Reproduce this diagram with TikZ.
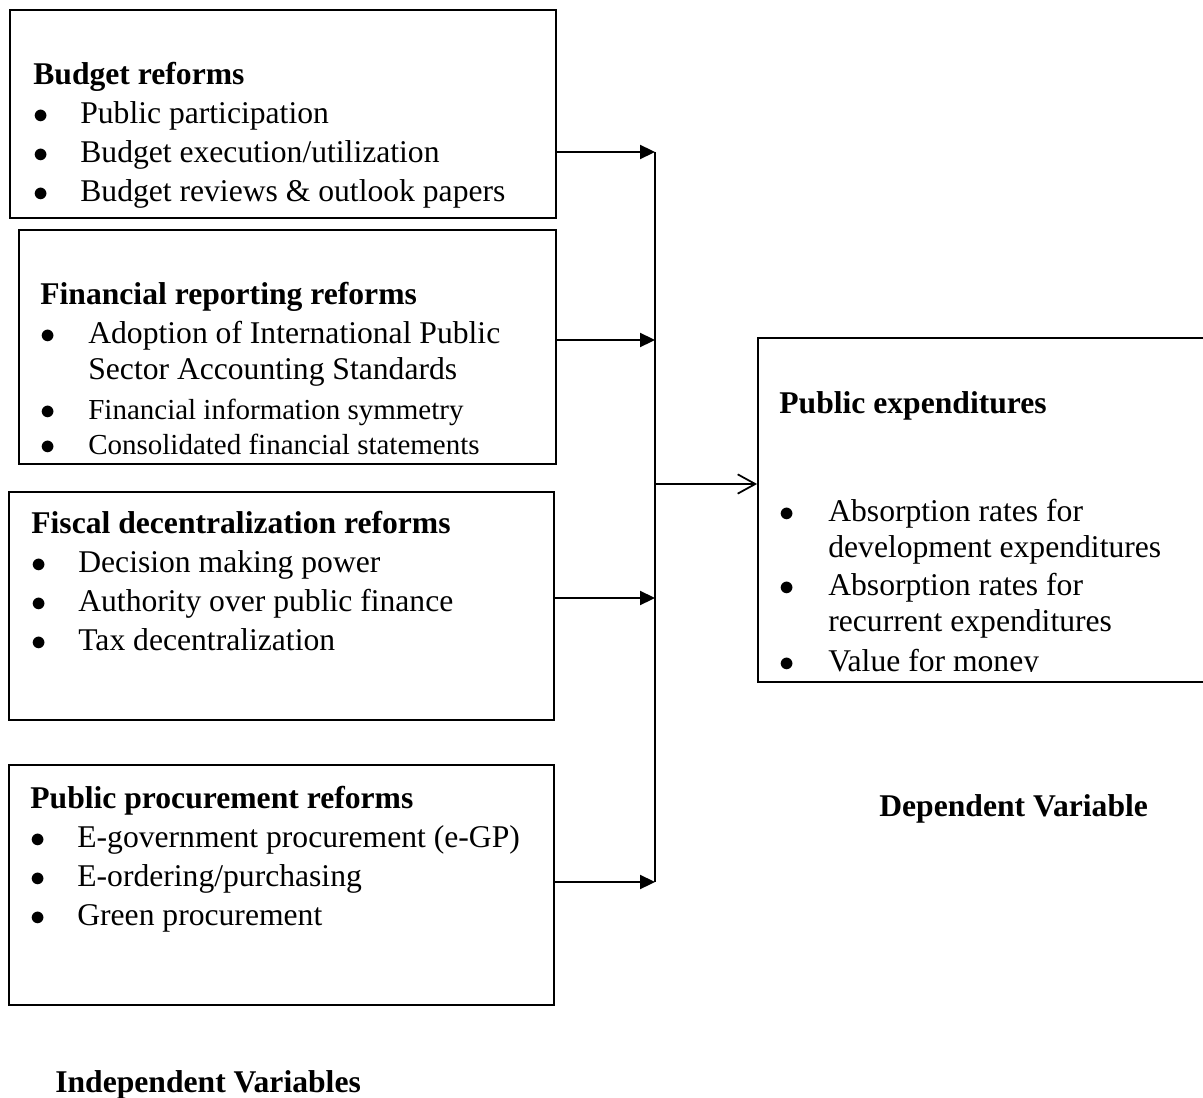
\documentclass[tikz,border=0pt]{standalone}
\usepackage{fontspec}
\setmainfont{Liberation Serif}
\usepackage{tikz}
\usetikzlibrary{arrows.meta,positioning}
\newcommand\bul[2][0.94cm]{\makebox[#1][l]{$\bullet$}#2}
\newcommand\smalltxt{\fontsize{16.5}{19.8}\selectfont}

\begin{document}
\begin{tikzpicture}[
  x=0.02cm, y=-0.02cm,
  font=\fontsize{18}{22.2}\selectfont,
  panel/.style={draw, line width=1.1pt, rectangle, inner sep=0pt},
  txt/.style={anchor=north west, align=left, inner sep=0pt},
  wire/.style={line width=1pt},
  feed/.style={wire, -{Triangle[length=8.5pt,width=8pt]}},
  into/.style={wire, -{Straight Barb[length=10pt,width=11pt]}}
]
  \clip (0,0) rectangle (1203,1098);
  \fill[white] (0,0) rectangle (1203,1098);

  % independent variables
  \node[panel, minimum width=10.92cm, minimum height=4.16cm] (budget) at (283,114) {};
  \node[panel, minimum width=10.74cm, minimum height=4.68cm] (report) at (287.5,347) {};
  \node[panel, minimum width=10.9cm, minimum height=4.56cm] (fiscal) at (281.5,606) {};
  \node[panel, minimum width=10.9cm, minimum height=4.8cm] (procure) at (281.5,885) {};

  \node[txt] (budgettxt) at (33,57.2) {\strut\textbf{Budget reforms}\\
    \bul{Public participation}\\
    \bul{Budget execution/utilization}\\
    \bul{Budget reviews \& outlook papers}};
  \node[txt] (reporttxt) at (40,276.7) {\strut\textbf{Financial reporting reforms}\\
    \bul[0.96cm]{Adoption of International Public}\\[-1.7pt]
    \hspace*{0.96cm}Sector Accounting Standards\\[0.6pt]
    {\smalltxt\bul[0.96cm]{Financial information symmetry}}\\[-2.3pt]
    {\smalltxt\bul[0.96cm]{Consolidated financial statements}}};
  \node[txt] (fiscaltxt) at (31,505.7) {\strut\textbf{Fiscal decentralization reforms}\\
    \bul{Decision making power}\\
    \bul{Authority over public finance}\\
    \bul{Tax decentralization}};
  \node[txt] (procuretxt) at (30,780.7) {\strut\textbf{Public procurement reforms}\\
    \bul{E-government procurement (e-GP)}\\
    \bul{E-ordering/purchasing}\\
    \bul{Green procurement}};

  % dependent variable
  \node[panel, minimum width=9.14cm, minimum height=6.88cm] (pubexp) at (986.5,510) {};
  \begin{scope}
    \clip (758,338) rectangle (1203,671);
    \node[txt] (pubexptxt) at (779,385.7) {\strut\textbf{Public expenditures}\\[39.3pt]
      \bul[0.98cm]{Absorption rates for}\\[-1.7pt]
      \hspace*{0.98cm}development expenditures\\[-0.6pt]
      \bul[0.98cm]{Absorption rates for}\\[-1.7pt]
      \hspace*{0.98cm}recurrent expenditures\\[0.6pt]
      \bul[0.98cm]{Value for money}};
  \end{scope}

  \node[anchor=base west, inner sep=0pt] (deplbl) at (879,816) {\textbf{Dependent Variable}};
  \node[anchor=base west, inner sep=0pt] (indlbl) at (55,1092) {\textbf{Independent Variables}};

  % connectors
  \coordinate (j1) at (655,152);
  \coordinate (j2) at (655,340);
  \coordinate (j3) at (655,598);
  \coordinate (j4) at (655,882);
  \coordinate (jm) at (655,484);
  \draw[feed] (budget.east |- j1) -- (j1);
  \draw[feed] (report.east |- j2) -- (j2);
  \draw[feed] (fiscal.east |- j3) -- (j3);
  \draw[feed] (procure.east |- j4) -- (j4);
  \draw[wire] (j1) -- (j4);
  \draw[into] (jm) -- (jm -| pubexp.west);
\end{tikzpicture}
\end{document}
